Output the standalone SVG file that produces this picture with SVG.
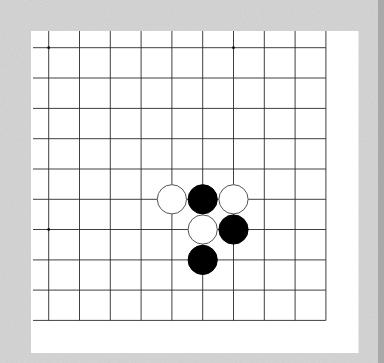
<svg xmlns="http://www.w3.org/2000/svg" width="384" height="363" viewBox="0 0 384 363">
  <defs>
    <filter id="grain" x="0" y="0" width="100%" height="100%">
      <feTurbulence type="fractalNoise" baseFrequency="0.9" numOctaves="2" seed="3" result="n"/>
      <feColorMatrix type="matrix" values="0 0 0 0 0.78  0 0 0 0 0.78  0 0 0 0 0.78  0 0 0 0.55 -0.1" in="n" result="g"/>
      <feComposite in="g" in2="SourceGraphic" operator="in"/>
    </filter>
  </defs>
  <style>
    .grid line { stroke: #2a2a2a; stroke-width: 0.9; }
    .black { fill: #000000; stroke: #000000; stroke-width: 1; }
    .white { fill: #ffffff; stroke: #555555; stroke-width: 1; }
    .star { fill: #111111; }
  </style>
  <!-- frame -->
  <rect x="0" y="0" width="384" height="363" fill="#cdcdcd"/>
  <rect x="0" y="0" width="384" height="363" fill="#cdcdcd" filter="url(#grain)"/>
  <rect x="378" y="0" width="6" height="363" fill="#a9a9a9"/>
  <rect x="31" y="31" width="327.5" height="322" fill="#ffffff"/>
  <!-- grid -->
  <g id="connectors" class="grid">
    <line x1="48.7" y1="31" x2="48.7" y2="320.4"/>
    <line x1="79.5" y1="31" x2="79.5" y2="320.4"/>
    <line x1="110.3" y1="31" x2="110.3" y2="320.4"/>
    <line x1="141.1" y1="31" x2="141.1" y2="320.4"/>
    <line x1="171.9" y1="31" x2="171.9" y2="320.4"/>
    <line x1="202.7" y1="31" x2="202.7" y2="320.4"/>
    <line x1="233.5" y1="31" x2="233.5" y2="320.4"/>
    <line x1="264.3" y1="31" x2="264.3" y2="320.4"/>
    <line x1="295.1" y1="31" x2="295.1" y2="320.4"/>
    <line x1="325.9" y1="31" x2="325.9" y2="320.4"/>
    <line x1="33" y1="47.7" x2="325.9" y2="47.7"/>
    <line x1="33" y1="78.0" x2="325.9" y2="78.0"/>
    <line x1="33" y1="108.4" x2="325.9" y2="108.4"/>
    <line x1="33" y1="138.7" x2="325.9" y2="138.7"/>
    <line x1="33" y1="169.0" x2="325.9" y2="169.0"/>
    <line x1="33" y1="199.3" x2="325.9" y2="199.3"/>
    <line x1="33" y1="229.5" x2="325.9" y2="229.5"/>
    <line x1="33" y1="259.9" x2="325.9" y2="259.9"/>
    <line x1="33" y1="290.1" x2="325.9" y2="290.1"/>
    <line x1="33" y1="320.4" x2="325.9" y2="320.4"/>
  </g>
  <g id="stars">
    <circle class="star" cx="48.7" cy="47.7" r="1.4"/>
    <circle class="star" cx="233.5" cy="47.7" r="1.4"/>
    <circle class="star" cx="48.7" cy="229.5" r="1.4"/>
  </g>
  <!-- stones -->
  <g id="w1"><circle class="white" cx="171.9" cy="199.3" r="14.6"/></g>
  <g id="b1"><circle class="black" cx="202.7" cy="199.3" r="14.6"/></g>
  <g id="w2"><circle class="white" cx="233.5" cy="199.3" r="14.6"/></g>
  <g id="w3"><circle class="white" cx="202.7" cy="229.5" r="14.6"/></g>
  <g id="b2"><circle class="black" cx="233.5" cy="229.5" r="14.6"/></g>
  <g id="b3"><circle class="black" cx="202.7" cy="259.9" r="14.6"/></g>
</svg>
